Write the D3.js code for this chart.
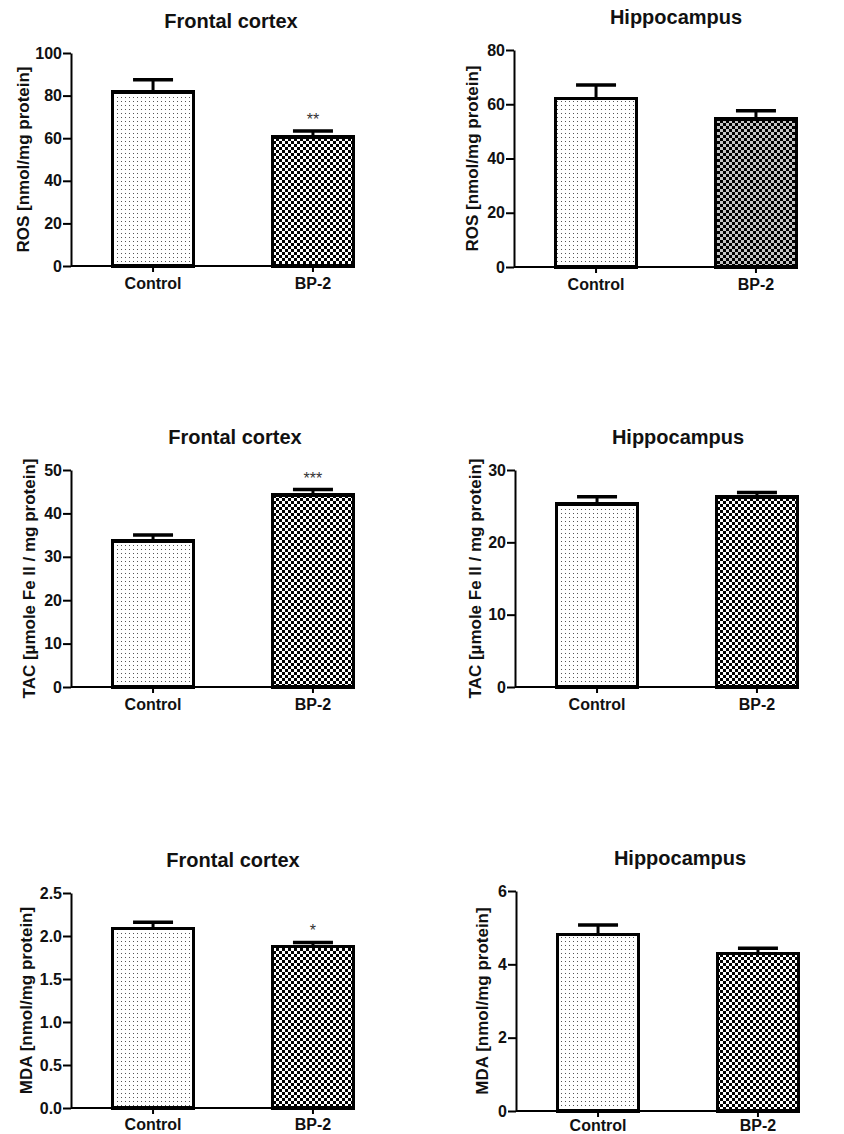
<!DOCTYPE html>
<html>
<head>
<meta charset="utf-8">
<script src="https://cdn.jsdelivr.net/npm/d3@7"></script>
<style>
  html, body { margin: 0; padding: 0; background: #fff; }
  svg { display: block; }
  text { font-family: Arial, "Liberation Sans", sans-serif; }
</style>
</head>
<body>
<svg id="chart" width="844" height="1134"></svg>
<script>
// ---------- data ----------
const categories = ["Control", "BP-2"];

const rosFrontalMean = [81.8, 60.5];
const rosFrontalSem  = [5.6, 2.9];
const rosFrontalSig  = ["", "**"];
const rosFrontalTicks = [0, 20, 40, 60, 80, 100];

const rosHippoMean = [62.2, 54.6];
const rosHippoSem  = [4.9, 3.0];
const rosHippoSig  = ["", ""];
const rosHippoTicks = [0, 20, 40, 60, 80];

const tacFrontalMean = [33.6, 44.2];
const tacFrontalSem  = [1.4, 1.3];
const tacFrontalSig  = ["", "***"];
const tacFrontalTicks = [0, 10, 20, 30, 40, 50];

const tacHippoMean = [25.3, 26.3];
const tacHippoSem  = [1.0, 0.6];
const tacHippoSig  = ["", ""];
const tacHippoTicks = [0, 10, 20, 30];

const mdaFrontalMean = [2.085, 1.88];
const mdaFrontalSem  = [0.075, 0.045];
const mdaFrontalSig  = ["", "*"];
const mdaFrontalTicks = [0.0, 0.5, 1.0, 1.5, 2.0, 2.5];

const mdaHippoMean = [4.82, 4.30];
const mdaHippoSem  = [0.25, 0.14];
const mdaHippoSig  = ["", ""];
const mdaHippoTicks = [0, 2, 4, 6];

const panelTitles = ["Frontal cortex", "Hippocampus"];
const rosLabel = "ROS [nmol/mg protein]";
const tacLabel = "TAC [\u00b5mole Fe II / mg protein]";
const mdaLabel = "MDA [nmol/mg protein]";

// ---------- layout ----------
const svg = d3.select("#chart");
const defs = svg.append("defs");

// dotted pattern (Control)
const dots = defs.append("pattern").attr("id", "dots")
  .attr("patternUnits", "userSpaceOnUse").attr("width", 4).attr("height", 4);
dots.append("rect").attr("width", 4).attr("height", 4).attr("fill", "#fff");
dots.append("rect").attr("x", 1).attr("y", 1).attr("width", 1).attr("height", 1).attr("fill", "#555");

function checker(id, bg) {
  const p = defs.append("pattern").attr("id", id)
    .attr("patternUnits", "userSpaceOnUse").attr("width", 6).attr("height", 6);
  p.append("rect").attr("width", 6).attr("height", 6).attr("fill", bg);
  p.append("rect").attr("x", 0).attr("y", 0).attr("width", 3).attr("height", 3).attr("fill", "#000");
  p.append("rect").attr("x", 3).attr("y", 3).attr("width", 3).attr("height", 3).attr("fill", "#000");
}
checker("checker", "#fff");
checker("checkerGrey", "#c4c4c4");

const panels = [
  { mean: rosFrontalMean, sem: rosFrontalSem, sig: rosFrontalSig, ticks: rosFrontalTicks, fmt: d3.format("d"),
    title: panelTitles[0], label: rosLabel, ax: 71, yTop: 53, yBot: 266, tx: 231, ty: 28, lx: 23, xpad: 6, fills: ["url(#dots)", "url(#checker)"] },
  { mean: rosHippoMean, sem: rosHippoSem, sig: rosHippoSig, ticks: rosHippoTicks, fmt: d3.format("d"),
    title: panelTitles[1], label: rosLabel, ax: 514, yTop: 50, yBot: 267, tx: 676, ty: 24, lx: 472, xpad: 6, fills: ["url(#dots)", "url(#checkerGrey)"] },
  { mean: tacFrontalMean, sem: tacFrontalSem, sig: tacFrontalSig, ticks: tacFrontalTicks, fmt: d3.format("d"),
    title: panelTitles[0], label: tacLabel, ax: 71, yTop: 470, yBot: 687, tx: 235, ty: 444, lx: 29, xpad: 6, fills: ["url(#dots)", "url(#checker)"] },
  { mean: tacHippoMean, sem: tacHippoSem, sig: tacHippoSig, ticks: tacHippoTicks, fmt: d3.format("d"),
    title: panelTitles[1], label: tacLabel, ax: 515, yTop: 470, yBot: 687, tx: 678, ty: 444, lx: 475, xpad: 6, fills: ["url(#dots)", "url(#checker)"] },
  { mean: mdaFrontalMean, sem: mdaFrontalSem, sig: mdaFrontalSig, ticks: mdaFrontalTicks, fmt: d3.format(".1f"),
    title: panelTitles[0], label: mdaLabel, ax: 71, yTop: 893, yBot: 1108, tx: 233, ty: 867, lx: 26, xpad: 5, fills: ["url(#dots)", "url(#checker)"] },
  { mean: mdaHippoMean, sem: mdaHippoSem, sig: mdaHippoSig, ticks: mdaHippoTicks, fmt: d3.format("d"),
    title: panelTitles[1], label: mdaLabel, ax: 516, yTop: 891, yBot: 1111, tx: 680, ty: 865, lx: 482, xpad: 2.5, fills: ["url(#dots)", "url(#checker)"] }
];

panels.forEach(p => {
  const g = svg.append("g");
  const x = d3.scaleBand().domain(categories)
    .range([p.ax, p.ax + 324]).paddingInner(0.494).paddingOuter(0.26);
  const y = d3.scaleLinear().domain([0, d3.max(p.ticks)]).range([p.yBot, p.yTop]);
  const bw = x.bandwidth();
  const rows = categories.map((c, i) => ({ c, m: p.mean[i], s: p.sem[i], sig: p.sig[i], fill: p.fills[i] }));

  // title
  g.append("text").attr("x", p.tx).attr("y", p.ty).attr("text-anchor", "middle")
    .attr("font-size", 20).attr("font-weight", "bold").attr("fill", "#111").text(p.title);

  // y label
  g.append("text")
    .attr("transform", `translate(${p.lx},${(p.yTop + p.yBot) / 2}) rotate(-90)`)
    .attr("text-anchor", "middle").attr("dominant-baseline", "central")
    .attr("font-size", 17).attr("font-weight", "bold").attr("fill", "#111").text(p.label);

  // error bars
  const eb = g.selectAll(".eb").data(rows).enter().append("g");
  eb.append("line")
    .attr("x1", d => x(d.c) + bw / 2).attr("x2", d => x(d.c) + bw / 2)
    .attr("y1", d => y(d.m)).attr("y2", d => y(d.m + d.s))
    .attr("stroke", "#000").attr("stroke-width", 3);
  eb.append("line")
    .attr("x1", d => x(d.c) + bw / 2 - 20).attr("x2", d => x(d.c) + bw / 2 + 20)
    .attr("y1", d => y(d.m + d.s)).attr("y2", d => y(d.m + d.s))
    .attr("stroke", "#000").attr("stroke-width", 3.5);

  // bars
  g.selectAll(".bar").data(rows).enter().append("rect")
    .attr("x", d => x(d.c)).attr("width", bw)
    .attr("y", d => y(d.m)).attr("height", d => y(0) - y(d.m))
    .attr("fill", d => d.fill).attr("stroke", "#000").attr("stroke-width", 3.5)
    .attr("shape-rendering", "crispEdges");

  // significance
  g.selectAll(".sig").data(rows.filter(d => d.sig)).enter().append("text")
    .attr("x", d => x(d.c) + bw / 2).attr("y", d => y(d.m + d.s) - 6)
    .attr("text-anchor", "middle").attr("font-size", 16).attr("fill", "#333").text(d => d.sig);

  // y axis
  const ya = g.append("g").attr("transform", `translate(${p.ax},0)`)
    .call(d3.axisLeft(y).tickValues(p.ticks).tickFormat(p.fmt).tickSize(8).tickSizeOuter(0).tickPadding(1));
  ya.select(".domain").attr("stroke-width", 2);
  ya.selectAll(".tick line").attr("stroke-width", 2);
  ya.selectAll("text").attr("font-size", 16).attr("font-weight", "bold").attr("fill", "#111")
    .attr("font-family", "Arial, 'Liberation Sans', sans-serif");

  // x axis
  const xa = g.append("g").attr("transform", `translate(0,${p.yBot})`)
    .call(d3.axisBottom(x).tickSize(6).tickSizeOuter(0).tickPadding(p.xpad));
  xa.select(".domain").remove();
  xa.selectAll(".tick line").attr("stroke-width", 2);
  xa.selectAll("text").attr("font-size", 16).attr("font-weight", "bold").attr("fill", "#111")
    .attr("font-family", "Arial, 'Liberation Sans', sans-serif");
  g.append("line").attr("x1", p.ax).attr("x2", x(categories[1]) + bw + 1.5)
    .attr("y1", p.yBot).attr("y2", p.yBot).attr("stroke", "#000").attr("stroke-width", 2);
});
</script>
</body>
</html>
